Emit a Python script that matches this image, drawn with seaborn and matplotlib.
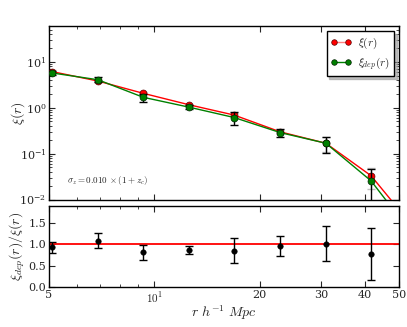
import numpy as np
import pandas as pd
import matplotlib
matplotlib.use("Agg")
import matplotlib.pyplot as plt
import seaborn as sns
from matplotlib.lines import Line2D
from matplotlib.ticker import FixedLocator, NullFormatter, LogLocator

r = [5.1, 6.9, 9.3, 12.6, 16.9, 22.9, 30.9, 41.6, 56.3]
xi = [6.1, 3.8, 2.05, 1.15, 0.69, 0.297, 0.168, 0.033, 0.002]
xi_err = [0.35, 0.25, 0.15, 0.08, 0.06, 0.03, 0.06, 0.016, 0.001]
xi_dep = [5.7, 4.05, 1.68, 1.02, 0.61, 0.286, 0.168, 0.0255, 0.0013]
xi_dep_err = [0.6, 0.5, 0.33, 0.1, 0.2, 0.06, 0.066, 0.02, 0.001]
ratio = [0.93, 1.09, 0.82, 0.87, 0.85, 0.955, 1.02, 0.78]
ratio_err = [0.12, 0.17, 0.17, 0.1, 0.29, 0.23, 0.41, 0.61]
xtick_vals = [5, 10, 20, 30, 40, 50]
xtick_labels = ['5', '$10^{1}$', '20', '30', '40', '50']

sns.set_style('ticks')
plt.rcParams['font.family'] = ['DejaVu Serif']
plt.rcParams['mathtext.fontset'] = 'cm'
plt.rcParams['axes.unicode_minus'] = False

df = pd.DataFrame({'r': r, 'xi': xi, 'xi_dep': xi_dep})
dfr = pd.DataFrame({'r': r[:8], 'ratio': ratio})

fig = plt.figure(figsize=(4.07, 3.27), dpi=100)
ax1 = fig.add_axes([0.1204, 0.3899, 0.8599, 0.5306])
ax2 = fig.add_axes([0.1204, 0.1208, 0.8599, 0.2502])

# top panel
ax1.errorbar(r, xi, yerr=xi_err, fmt='none', ecolor='0.75', elinewidth=1, capsize=3, zorder=2)
ax1.errorbar(r, xi_dep, yerr=xi_dep_err, fmt='none', ecolor='black', elinewidth=1, capsize=3, zorder=4)
sns.lineplot(data=df, x='r', y='xi', ax=ax1, color='red', marker='o', markersize=5,
             markeredgecolor='#550000', markeredgewidth=0.5, lw=1, zorder=3, clip_on=True)
sns.lineplot(data=df, x='r', y='xi_dep', ax=ax1, color='green', marker='o', markersize=5,
             markeredgecolor='#002000', markeredgewidth=0.5, lw=1, zorder=5, clip_on=True)
ax1.set_xscale('log')
ax1.set_yscale('log')
ax1.set_xlim(5, 50)
ax1.set_ylim(0.01, 60)
ax1.set_xlabel('')
ax1.set_ylabel(r'$\xi(r)$', fontsize=10)
ax1.xaxis.set_major_locator(FixedLocator(xtick_vals))
ax1.xaxis.set_minor_locator(FixedLocator([6, 7, 8, 9]))
ax1.xaxis.set_major_formatter(NullFormatter())
ax1.xaxis.set_minor_formatter(NullFormatter())
ax1.yaxis.set_major_locator(LogLocator(base=10, numticks=10))
ax1.yaxis.set_minor_locator(LogLocator(base=10, subs=np.arange(2, 10), numticks=50))
ax1.text(0.05, 0.112, r'$\sigma_z{=}0.010\,\times(1+z_c)$', transform=ax1.transAxes,
         fontsize=6.5, va='center', ha='left')

handles = [Line2D([0], [0], color='#ff8080', lw=1, marker='o', markersize=4,
                  markerfacecolor='red', markeredgecolor='#550000', markeredgewidth=0.5),
           Line2D([0], [0], color='green', lw=1, marker='o', markersize=4,
                  markerfacecolor='green', markeredgecolor='#002000', markeredgewidth=0.5)]
leg = ax1.legend(handles, [r'$\xi(r)$', r'$\xi_{dep}(r)$'], loc='upper right', numpoints=2,
                 fontsize=8, frameon=True, fancybox=False, shadow={'color': '0.6', 'alpha': 0.6},
                 framealpha=1, borderaxespad=0.45, handlelength=1.8, labelspacing=0.4,
                 borderpad=0.4, handletextpad=0.6)
leg.get_frame().set_edgecolor('black')
leg.get_frame().set_linewidth(1)

# bottom panel
ax2.axhline(1.0, color='red', lw=1.3, zorder=2)
ax2.errorbar(r[:8], ratio, yerr=ratio_err, fmt='none', ecolor='black', elinewidth=1, capsize=3, zorder=3)
sns.scatterplot(data=dfr, x='r', y='ratio', ax=ax2, color='black', s=16, edgecolor='black', zorder=4)
ax2.set_xscale('log')
ax2.set_xlim(5, 50)
ax2.set_ylim(0, 1.9)
ax2.set_yticks([0.0, 0.5, 1.0, 1.5])
ax2.set_yticklabels(['0.0', '0.5', '1.0', '1.5'])
ax2.xaxis.set_major_locator(FixedLocator(xtick_vals))
ax2.xaxis.set_minor_locator(FixedLocator([6, 7, 8, 9]))
ax2.set_xticklabels(xtick_labels)
ax2.xaxis.set_minor_formatter(NullFormatter())
ax2.set_xlabel(r'$r\ h^{-1}\ Mpc$', fontsize=10, labelpad=-1)
ax2.set_ylabel(r'$\xi_{dep}(r)/\xi(r)$', fontsize=10)

for ax in (ax1, ax2):
    ax.tick_params(which='both', direction='in', top=True, right=True, labelsize=8, pad=2)
    ax.tick_params(which='major', length=4, width=0.8)
    ax.tick_params(which='minor', length=2, width=0.6)
    for s in ax.spines.values():
        s.set_color('black')
        s.set_linewidth(1)
        s.set_visible(True)
    ax.yaxis.set_label_coords(-0.063, 0.5)

fig.savefig('out.png', dpi=100)
